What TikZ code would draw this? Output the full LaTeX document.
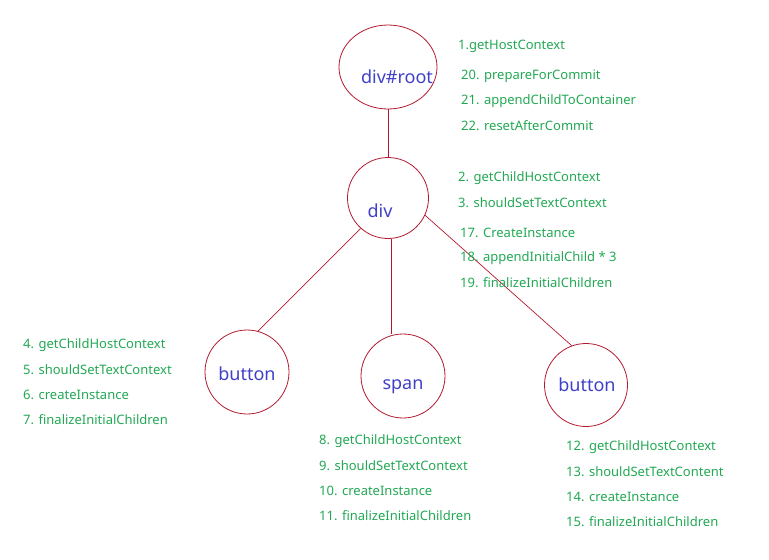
\documentclass[tikz,border=0pt]{standalone}
\usepackage{fontspec}
\setmainfont{Noto Sans}
\usetikzlibrary{shapes.geometric}
\definecolor{edgered}{RGB}{178,24,48}
\definecolor{stepgreen}{RGB}{34,168,84}
\definecolor{nameblue}{RGB}{64,64,200}
\tikzset{
  elem/.style={circle,draw=edgered,line width=0.8pt,minimum size=84pt,inner sep=0pt},
  rootelem/.style={ellipse,draw=edgered,line width=0.8pt,minimum width=98pt,minimum height=84pt,inner sep=0pt},
  link/.style={draw=edgered,line width=0.7pt},
  elname/.style={text=nameblue,font=\fontsize{18}{20}\selectfont,inner sep=0pt},
  steptext/.style={text=stepgreen,font=\fontsize{13}{15}\selectfont,anchor=west,inner sep=0pt,yshift=-2pt}
}
\begin{document}
\begin{tikzpicture}[x=1pt,y=-1pt]
\useasboundingbox (0,0) rectangle (769,560);
% element nodes
\node[rootelem] (root) at (388,67) {};
\node[elem,minimum size=81pt] (div) at (388,198) {};
\node[elem] (btnA) at (247,372) {};
\node[elem] (span) at (403,376) {};
\node[elem,minimum size=83pt] (btnB) at (586,385) {};
\coordinate (spantop) at (391,333.5);
% names
\node[elname] (nroot) at (397,77) {div\#root};
\node[elname] (ndiv) at (380,211) {div};
\node[elname] (nbtnA) at (247,373.5) {button};
\node[elname] (nspan) at (403,387) {span};
\node[elname] (nbtnB) at (587,385) {button};
% connectors
\draw[link] (root.south) -- (div.north);
\draw[link] (div.228) -- (btnA.75);
\draw[link] (div.south -| spantop) -- (spantop);
\draw[link] (div.335) -- (btnB.110);
% step lists
\node[steptext] (s1) at (458,44) {1.getHostContext};
\node[steptext] (s20) at (461,74) {20. prepareForCommit};
\node[steptext] (s21) at (461,99) {21. appendChildToContainer};
\node[steptext] (s22) at (461,124) {22. resetAfterCommit};
\node[steptext] (s2) at (458,176) {2. getChildHostContext};
\node[steptext] (s3) at (458,201) {3. shouldSetTextContext};
\node[steptext] (s17) at (460,231) {17. CreateInstance};
\node[steptext] (s18) at (460,256) {18. appendInitialChild * 3};
\node[steptext] (s19) at (460,281) {19. finalizeInitialChildren};
\node[steptext] (s4) at (23,343) {4. getChildHostContext};
\node[steptext] (s5) at (23,368) {5. shouldSetTextContext};
\node[steptext] (s6) at (23,393) {6. createInstance};
\node[steptext] (s7) at (23,418) {7. finalizeInitialChildren};
\node[steptext] (s8) at (319,439) {8. getChildHostContext};
\node[steptext] (s9) at (319,464) {9. shouldSetTextContext};
\node[steptext] (s10) at (319,489) {10. createInstance};
\node[steptext] (s11) at (319,514) {11. finalizeInitialChildren};
\node[steptext] (s12) at (566,445) {12. getChildHostContext};
\node[steptext] (s13) at (566,470) {13. shouldSetTextContent};
\node[steptext] (s14) at (566,495) {14. createInstance};
\node[steptext] (s15) at (566,520) {15. finalizeInitialChildren};
\end{tikzpicture}
\end{document}
